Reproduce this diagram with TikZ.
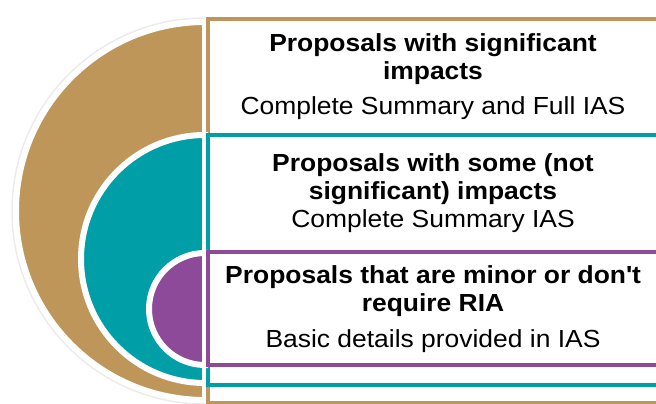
\documentclass[tikz,border=0pt]{standalone}
\usepackage{fontspec}
\setmainfont{Liberation Sans}[FakeStretch=1.07]
\usepackage{xcolor}
\definecolor{tanbrown}{HTML}{BF9659}
\definecolor{tealring}{HTML}{009EA6}
\definecolor{purplering}{HTML}{8C4A99}

\begin{document}
\begin{tikzpicture}[x=1pt,y=1pt,
	titletext/.style={font=\fontsize{24.7}{28}\selectfont\bfseries, align=center, inner sep=0pt, anchor=base},
	subtext/.style={font=\fontsize{24.7}{28}\selectfont, inner sep=0pt, anchor=base}]
	\useasboundingbox (0,0) rectangle (656,404);
	\clip (0,0) rectangle (656,404);
	% faint shadow round the outer half disc
	\draw[black!8, line width=1.5pt] (205,193+193) arc (90:270:193);
	% colour / box top / box bottom / disc centre / radius
	\foreach \col/\ytop/\ybot/\cy/\rad in {tanbrown/385/1/193/186, tealring/269/19/145/121, purplering/152/39/95/53}
	{
		\draw[white, line width=6pt, fill=\col] (205,\cy+\rad+3) arc (90:270:\rad+3) -- cycle;
		\draw[\col, line width=4pt, fill=white] (208,\ybot) rectangle (680,\ytop);
	}
	% base anchor of a two line node sits on its last line
	\node[titletext] (t1) at (433,324.3) {Proposals with significant\\impacts};
	\node[subtext] (s1) at (433,289) {Complete Summary and Full IAS};
	\node[titletext] (t2) at (433,204.3) {Proposals with some (not\\significant) impacts};
	\node[subtext] (s2) at (433,176) {Complete Summary IAS};
	\node[titletext] (t3) at (433,92.7) {Proposals that are minor or don\textquotesingle t\\require RIA};
	\node[subtext] (s3) at (433,56) {Basic details provided in IAS};
\end{tikzpicture}
\end{document}
